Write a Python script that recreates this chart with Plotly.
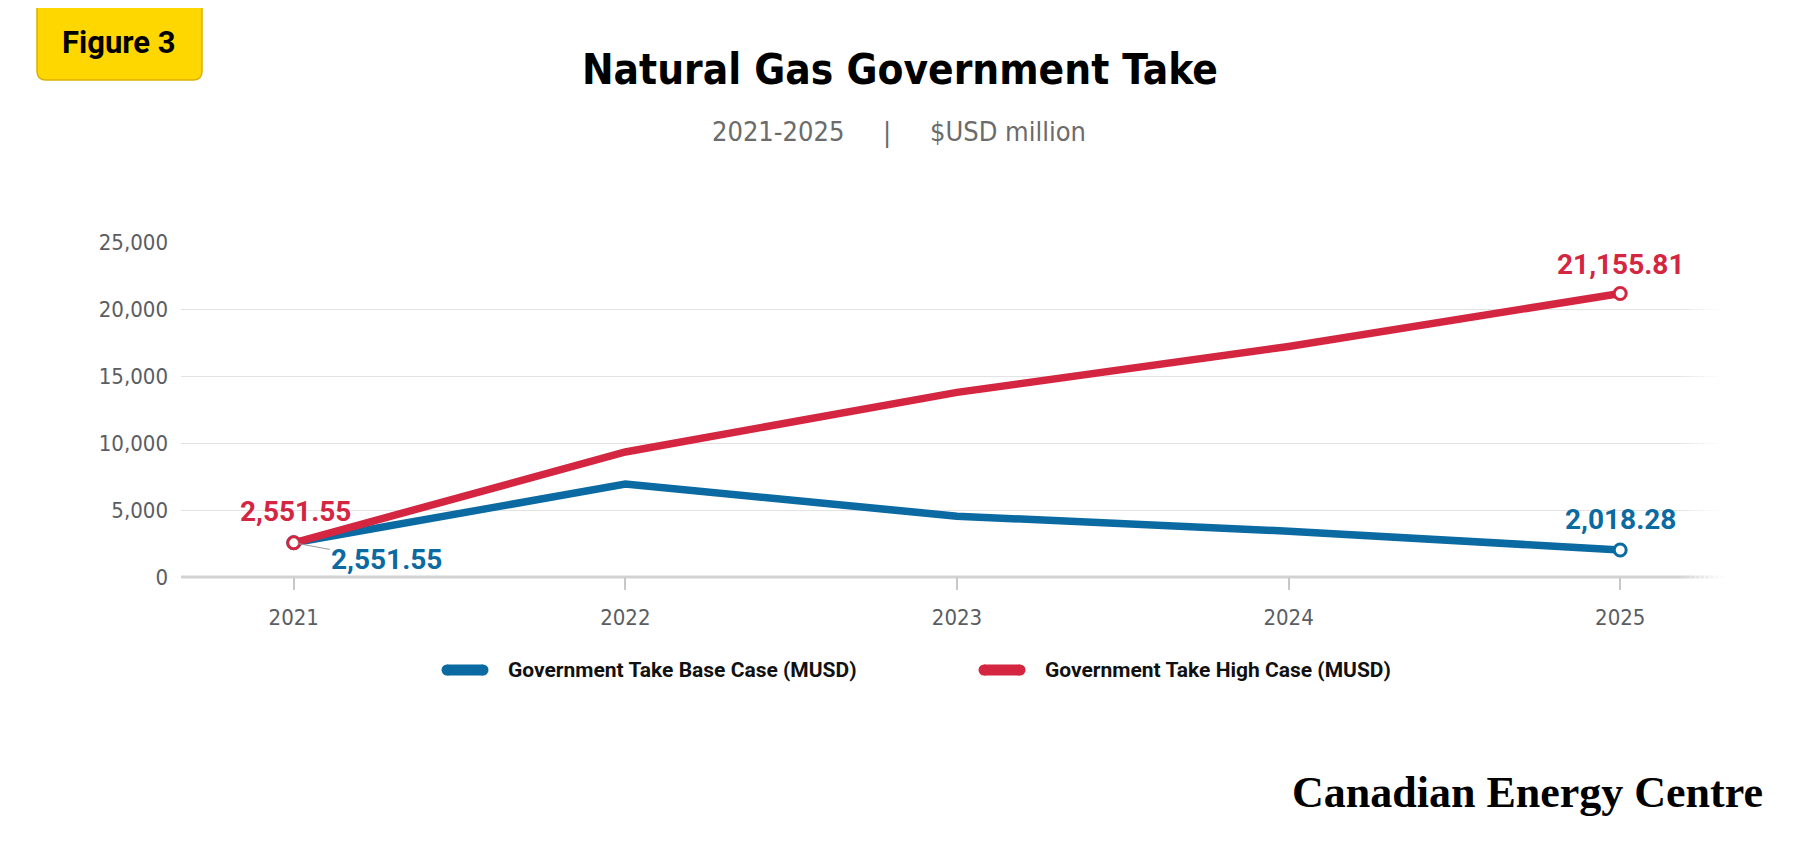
import plotly.graph_objects as go

years = [2021, 2022, 2023, 2024, 2025]
base_case = [2551.55, 6930, 4540, 3420, 2018.28]
high_case = [2551.55, 9330, 13780, 17200, 21155.81]
y_ticks = [0, 5000, 10000, 15000, 20000, 25000]
series_names = ["Government Take Base Case (MUSD)", "Government Take High Case (MUSD)"]

BLUE = "#0A6AA1"
RED = "#D42541"
GREY = "#5A5D62"
COND = "DejaVu Sans Condensed, Roboto Condensed, Roboto, sans-serif"

W, H = 1800, 850
OFF = 8  # page body margin
L, R, T, B = 181 - OFF, 75 + OFF, 242 - OFF, 273 + OFF


# pixel -> paper helpers (for the decorations outside the plot)
def px(x):
    return (x - OFF - L) / (W - L - R)


def py(y):
    return (H - B - (y - OFF)) / (H - T - B)


fig = go.Figure()

for vals, col, name in [(base_case, BLUE, series_names[0]),
                        (high_case, RED, series_names[1])]:
    fig.add_trace(go.Scatter(
        x=years, y=vals, name=name, mode="lines",
        line=dict(color=col, width=7.5), showlegend=False, hoverinfo="skip"))
for vals, col in [(base_case, BLUE), (high_case, RED)]:
    fig.add_trace(go.Scatter(
        x=[years[0], years[-1]], y=[vals[0], vals[-1]], mode="markers",
        marker=dict(size=12, color="white", line=dict(color=col, width=3)),
        showlegend=False, hoverinfo="skip"))

lab_font = dict(family="Roboto", size=28, weight="bold")

# end-point value labels
fig.add_annotation(x=years[0], y=high_case[0], text=f"{high_case[0]:,.2f}",
                   showarrow=False, yshift=31, xshift=2,
                   font=dict(lab_font, color=RED))
fig.add_annotation(x=years[0], y=base_case[0], text=f"{base_case[0]:,.2f}",
                   showarrow=True, arrowhead=0, arrowwidth=1, arrowcolor="#9a9a9a",
                   ax=93, ay=17, standoff=4,
                   font=dict(lab_font, color=BLUE))
fig.add_annotation(x=years[-1], y=high_case[-1], text=f"{high_case[-1]:,.2f}",
                   showarrow=False, yshift=29,
                   font=dict(lab_font, color=RED))
fig.add_annotation(x=years[-1], y=base_case[-1], text=f"{base_case[-1]:,.2f}",
                   showarrow=False, yshift=30,
                   font=dict(lab_font, color=BLUE))

# x axis baseline
fig.add_shape(type="line", xref="paper", yref="paper", x0=0, x1=1,
              y0=0, y1=0, line=dict(color="#d2d2d2", width=3), layer="below")

# soft fade of grid / baseline at the right edge
n_fade = 10
for i in range(n_fade):
    a = px(1680 + i * 4.8)
    b = px(1680 + (i + 1) * 4.8)
    fig.add_shape(type="rect", xref="paper", yref="paper", x0=a, x1=b + 0.001,
                  y0=-0.03, y1=1.02, line_width=0, fillcolor="white",
                  opacity=(i + 1) / n_fade, layer="above")

# legend drawn by hand (thick rounded swatches)
for i, (col, x_sw, x_txt) in enumerate([(BLUE, 442, 506), (RED, 979, 1043)]):
    fig.add_shape(type="line", xref="paper", yref="paper",
                  x0=px(x_sw + 5), x1=px(x_sw + 41), y0=py(670), y1=py(670),
                  line=dict(color=col, width=11))
    for xc in (x_sw + 5, x_sw + 41):
        fig.add_shape(type="circle", xref="paper", yref="paper",
                      x0=px(xc - 5.5), x1=px(xc + 5.5),
                      y0=py(675.5), y1=py(664.5),
                      fillcolor=col, line_width=0)
    fig.add_annotation(xref="paper", yref="paper", x=px(x_txt), y=py(670),
                       xanchor="left", yanchor="middle", text=series_names[i],
                       showarrow=False,
                       font=dict(family="Roboto", size=21, color="#111111",
                                 weight="bold"))

# title block
fig.add_annotation(xref="paper", yref="paper", x=px(900), y=py(69),
                   xanchor="center", yanchor="middle",
                   text="Natural Gas Government Take", showarrow=False,
                   font=dict(family=COND, size=42, color="black", weight="bold"))
sub_font = dict(family=COND, size=27, color="#6b6b6b")
for txt, xpos in [("2021-2025", 778), ("|", 887), ("$USD million", 1008)]:
    fig.add_annotation(xref="paper", yref="paper", x=px(xpos), y=py(132),
                       xanchor="center", yanchor="middle",
                       text=txt, showarrow=False, font=sub_font)

# "Figure 3" tag
x0, x1, y1, r = px(37), px(202), py(80), 9
rx = r / (W - L - R)
ry = r / (H - T - B)
fig.add_shape(type="path", xref="paper", yref="paper",
              path=(f"M {x0},{py(-5)} L {x0},{y1 + ry} Q {x0},{y1} {x0 + rx},{y1} "
                    f"L {x1 - rx},{y1} Q {x1},{y1} {x1},{y1 + ry} L {x1},{py(-5)} Z"),
              fillcolor="#FFD700", line=dict(color="#D9B200", width=1.5))
fig.add_annotation(xref="paper", yref="paper", x=px(119), y=py(42),
                   xanchor="center", yanchor="middle",
                   text="Figure 3", showarrow=False,
                   font=dict(family="Roboto", size=31, color="black", weight="bold"))

# brand
fig.add_annotation(xref="paper", yref="paper", x=px(1765), y=py(792),
                   xanchor="right", yanchor="middle",
                   text="Canadian Energy Centre", showarrow=False,
                   font=dict(family="Liberation Serif", size=44, color="black",
                             weight="bold"))

fig.update_layout(
    width=W, height=H,
    margin=dict(l=L, r=R, t=T, b=B),
    paper_bgcolor="white", plot_bgcolor="white",
    showlegend=False,
    xaxis=dict(range=[2020.66, 2025.316], tickvals=years,
               showgrid=False, zeroline=False, showline=False,
               ticks="outside", ticklen=12, tickwidth=1.5, tickcolor="#c8c8c8",
               ticklabelstandoff=9,
               tickfont=dict(family=COND, size=22, color=GREY, weight=500)),
    yaxis=dict(range=[0, 25000], tickvals=y_ticks,
               tickformat=",d",
               showgrid=True, gridcolor="#e3e3e3", gridwidth=1,
               zeroline=False, showline=False,
               ticklabelstandoff=12,
               tickfont=dict(family=COND, size=22, color=GREY, weight=500)),
)

fig.write_html("out.html")
